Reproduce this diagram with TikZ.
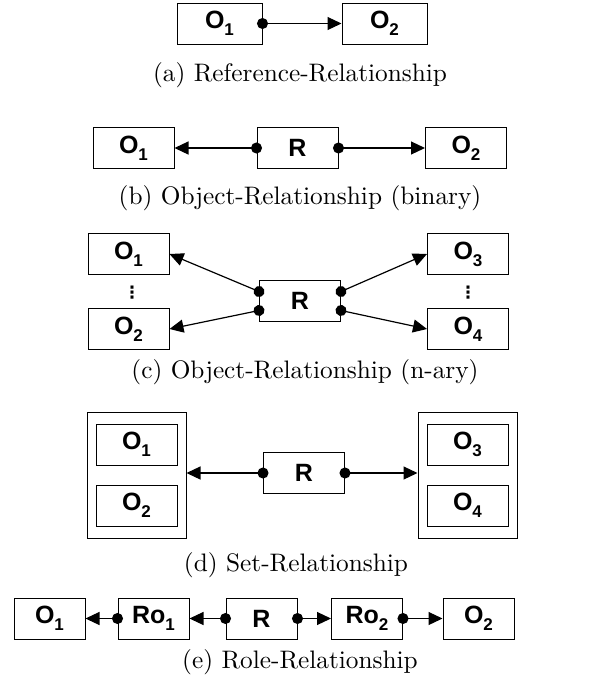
\documentclass[tikz,border=0pt]{standalone}
\usepackage{fontspec}
\usepackage{tikz}
\usetikzlibrary{arrows.meta}
\usetikzlibrary{fit}
\newfontfamily\boxfont{Liberation Sans}
\newfontfamily\dotfont{DejaVu Sans}
\newfontfamily\capfont{lmroman10-regular}[Extension=.otf]
\newcommand{\subix}[1]{\raisebox{-0.28em}{\fontsize{17}{17}\selectfont #1}}
\tikzset{
    obj/.style={draw, line width=1pt, minimum width=81pt, minimum height=41pt, inner sep=0pt,
        font=\boxfont\bfseries\fontsize{25}{25}\selectfont},
    small/.style={obj, minimum width=71pt},
    wide/.style={obj, minimum width=85pt},
    set/.style={draw, line width=1pt, inner xsep=8.5pt, inner ysep=11.5pt},
    vdots/.style={inner sep=0pt, font=\dotfont\bfseries\fontsize{17}{17}\selectfont},
    rel/.style={{Circle[length=11pt]}-{Triangle[length=14pt, width=13pt]}, shorten <=-5.5pt, line width=1.2pt},
    caption/.style={font=\capfont\fontsize{25.3}{29}\selectfont},
}

\begin{document}
\begin{tikzpicture}[x=1pt, y=-1pt]
    \useasboundingbox (0, 0) rectangle (591, 686);
    % (a)
    \node[wide] (a1) at (219.5, 23.5) {O\subix{1}};
    \node[wide] (a2) at (384.5, 23.5) {O\subix{2}};
    \draw[rel] (a1.east) -- (a2.west);
    \node[caption] (capa) at (300, 75) {(a) Reference-Relationship};
    % (b)
    \node[obj] (b1) at (133.5, 148) {O\subix{1}};
    \node[obj] (br) at (297.5, 148) {R};
    \node[obj] (b2) at (466, 148) {O\subix{2}};
    \draw[rel] (br.west) -- (b1.east);
    \draw[rel] (br.east) -- (b2.west);
    \node[caption] (capb) at (300, 198) {(b) Object-Relationship (binary)};
    % (c)
    \node[obj] (c1) at (128.5, 254) {O\subix{1}};
    \node[obj] (c2) at (128.5, 329) {O\subix{2}};
    \node[obj] (c3) at (468, 254) {O\subix{3}};
    \node[obj] (c4) at (468, 329) {O\subix{4}};
    \node[vdots] (cdl) at (132, 293) {⋮};
    \node[vdots] (cdr) at (468, 293) {⋮};
    \node[obj] (cr) at (300, 301) {R};
    \draw[rel] ([yshift=9.5pt]cr.west) -- (c1.east);
    \draw[rel] ([yshift=-9.5pt]cr.west) -- (c2.east);
    \draw[rel] ([yshift=9.5pt]cr.east) -- (c3.west);
    \draw[rel] ([yshift=-9.5pt]cr.east) -- (c4.west);
    \node[caption] (capc) at (305, 372) {(c) Object-Relationship (n-ary)};
    % (d)
    \node[obj] (d1) at (136.5, 444.5) {O\subix{1}};
    \node[obj] (d2) at (136.5, 505.5) {O\subix{2}};
    \node[obj] (d3) at (467.5, 444.5) {O\subix{3}};
    \node[obj] (d4) at (467.5, 505.5) {O\subix{4}};
    \node[set, fit=(d1) (d2)] (dl) {};
    \node[set, fit=(d3) (d4)] (dr) {};
    \node[obj] (dm) at (304, 473) {R};
    \draw[rel] (dm.west) -- (dm.west -| dl.east);
    \draw[rel] (dm.east) -- (dm.east -| dr.west);
    \node[caption] (capd) at (296, 565) {(d) Set-Relationship};
    % (e)
    \node[small] (e1) at (49.5, 618.5) {O\subix{1}};
    \node[small] (ero1) at (153.5, 618.5) {Ro\subix{1}};
    \node[small] (er) at (261.5, 618.5) {R};
    \node[small] (ero2) at (367, 618.5) {Ro\subix{2}};
    \node[small] (e2) at (478.5, 618.5) {O\subix{2}};
    \draw[rel] (ero1.west) -- (e1.east);
    \draw[rel] (er.west) -- (ero1.east);
    \draw[rel] (er.east) -- (ero2.west);
    \draw[rel] (ero2.east) -- (e2.west);
    \node[caption] (cape) at (300, 662) {(e) Role-Relationship};
\end{tikzpicture}
\end{document}
